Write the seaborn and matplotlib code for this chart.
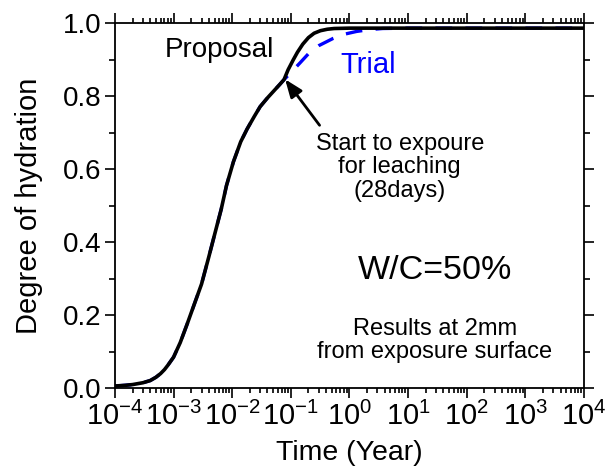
import numpy as np
import pandas as pd
import seaborn as sns
import matplotlib
matplotlib.use("Agg")
import matplotlib.pyplot as plt
from matplotlib.ticker import LogLocator, MultipleLocator, LogFormatterMathtext, FormatStrFormatter

# Data
t_prop = [1e-4, 1.5e-4, 2e-4, 3e-4, 4e-4, 5e-4, 6e-4, 7e-4, 8e-4, 1e-3, 1.3e-3,
          1.7e-3, 2.2e-3, 3e-3, 4e-3, 5e-3, 6.5e-3, 8e-3, 1.05e-2, 1.4e-2, 1.8e-2,
          2.4e-2, 3e-2, 4e-2, 5e-2, 6.5e-2, 7.67e-2, 9e-2, 0.11, 0.13, 0.16, 0.2,
          0.25, 0.32, 0.42, 0.55, 1.0, 10.0, 100.0, 1000.0, 1e4]
h_prop = [0.006, 0.008, 0.010, 0.015, 0.021, 0.030, 0.040, 0.051, 0.063, 0.085, 0.125,
          0.175, 0.225, 0.285, 0.36, 0.42, 0.49, 0.555, 0.62, 0.675, 0.71,
          0.745, 0.771, 0.795, 0.812, 0.832, 0.845, 0.872, 0.899, 0.92, 0.942, 0.96,
          0.972, 0.979, 0.983, 0.985, 0.986, 0.986, 0.986, 0.986, 0.986]

t_trial = [1e-4, 1.5e-4, 2e-4, 3e-4, 4e-4, 5e-4, 6e-4, 7e-4, 8e-4, 1e-3, 1.3e-3,
           1.7e-3, 2.2e-3, 3e-3, 4e-3, 5e-3, 6.5e-3, 8e-3, 1.05e-2, 1.4e-2, 1.8e-2,
           2.4e-2, 3e-2, 4e-2, 5e-2, 6.5e-2, 7.67e-2, 0.1, 0.144, 0.214, 0.3, 0.53,
           0.8, 1.33, 2.2, 3.7, 10.0, 100.0, 1000.0, 1e4]
h_trial = [0.006, 0.008, 0.010, 0.015, 0.021, 0.030, 0.040, 0.051, 0.063, 0.085, 0.125,
           0.175, 0.225, 0.285, 0.36, 0.42, 0.49, 0.555, 0.62, 0.675, 0.71,
           0.745, 0.771, 0.795, 0.812, 0.832, 0.845, 0.864, 0.891, 0.921, 0.938, 0.958,
           0.969, 0.977, 0.982, 0.985, 0.986, 0.986, 0.986, 0.986]

sns.set_theme(style="ticks")
plt.rcParams['font.family'] = ['Liberation Sans', 'DejaVu Sans']
plt.rcParams['mathtext.fontset'] = 'custom'
plt.rcParams['mathtext.rm'] = 'Liberation Sans'
plt.rcParams['mathtext.it'] = 'Liberation Sans'
plt.rcParams['axes.unicode_minus'] = False
for k in ['text.color', 'axes.labelcolor', 'xtick.color', 'ytick.color', 'axes.edgecolor']:
    plt.rcParams[k] = 'black'

fig = plt.figure(figsize=(6.05, 4.70), dpi=100)
ax = fig.add_axes([0.190, 0.174, 0.775, 0.777])

df_p = pd.DataFrame({"t": t_prop, "h": h_prop})
df_t = pd.DataFrame({"t": t_trial, "h": h_trial})

sns.lineplot(data=df_t, x="t", y="h", ax=ax, color="#0000ff", lw=2.4,
             linestyle=(0, (5, 4)), zorder=2)
sns.lineplot(data=df_p, x="t", y="h", ax=ax, color="black", lw=2.6, zorder=3)

ax.set_xscale("log")
ax.set_xlim(1e-4, 1e4)
ax.set_ylim(0, 1.0)
ax.xaxis.set_major_locator(LogLocator(base=10, numticks=20))
ax.xaxis.set_minor_locator(LogLocator(base=10, subs=np.arange(2, 10), numticks=100))
ax.xaxis.set_major_formatter(LogFormatterMathtext())
ax.yaxis.set_major_locator(MultipleLocator(0.2))
ax.yaxis.set_minor_locator(MultipleLocator(0.1))
ax.yaxis.set_major_formatter(FormatStrFormatter('%.1f'))

for s in ax.spines.values():
    s.set_visible(True)
    s.set_linewidth(1.3)
    s.set_color("black")

ax.tick_params(axis="both", which="both", direction="out", top=True, right=True,
               color="black", width=1.2)
ax.tick_params(axis="both", which="major", length=7, labelsize=20, pad=3)
ax.tick_params(axis="both", which="minor", length=3.5)
ax.tick_params(axis="x", which="major", labeltop=False, pad=3, labelsize=21)
ax.tick_params(axis="y", which="minor", length=4.5)

ax.set_xlabel("Time (Year)", fontsize=20.5, labelpad=6)
ax.set_ylabel("Degree of hydration", fontsize=21, labelpad=14)

ax.text(10**-2.21, 0.926, "Proposal", fontsize=20, ha="center", va="center")
ax.text(10**0.317, 0.885, "Trial", fontsize=21, ha="center", va="center", color="#0000ff")
ax.text(10**0.86, 0.605, "Start to expoure\nfor leaching\n(28days)", fontsize=17,
        ha="center", va="center", linespacing=1.1)
ax.annotate("", xy=(0.08, 0.846), xytext=(0.31, 0.72),
            arrowprops=dict(arrowstyle="-|>,head_length=0.9,head_width=0.35",
                            color="black", lw=2, shrinkA=0, shrinkB=0))
ax.text(10**1.46, 0.323, "W/C=50%", fontsize=24.5, ha="center", va="center")
ax.text(10**1.46, 0.131, "Results at 2mm\nfrom exposure surface", fontsize=17,
        ha="center", va="center", linespacing=1.1)

fig.savefig("out.png", dpi=100)
